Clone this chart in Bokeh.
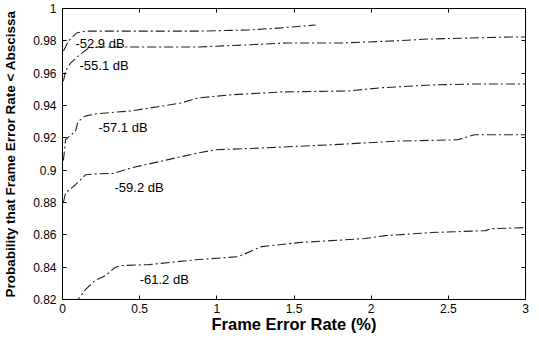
from bokeh.plotting import figure
from bokeh.models import LinearAxis, FixedTicker, Range1d, Label
from bokeh.embed import file_html
from bokeh.resources import INLINE

# Curves: frame error rate (%) vs probability
c529_x = [0.006, 0.04, 0.09, 0.15, 0.88, 1.2, 1.42, 1.64]
c529_y = [0.9737, 0.980, 0.9848, 0.986, 0.986, 0.9867, 0.988, 0.9898]

c551_x = [0.006, 0.02, 0.05, 0.084, 0.12, 0.17, 0.23, 0.88, 1.2, 1.46, 1.82, 2.16, 2.37, 2.91, 3.0]
c551_y = [0.955, 0.9614, 0.966, 0.969, 0.972, 0.9756, 0.9762, 0.9762, 0.9775, 0.9787, 0.9787, 0.980, 0.9811, 0.9824, 0.9824]

c571_x = [0.006, 0.02, 0.084, 0.10, 0.15, 0.23, 0.45, 0.67, 0.77, 0.88, 1.09, 1.42, 1.85, 2.07, 2.39, 2.67, 3.0]
c571_y = [0.906, 0.919, 0.924, 0.930, 0.9336, 0.935, 0.9367, 0.940, 0.9416, 0.9447, 0.9466, 0.9484, 0.949, 0.951, 0.9527, 0.9533, 0.9533]

c592_x = [0.006, 0.02, 0.084, 0.15, 0.23, 0.33, 0.45, 0.88, 0.99, 1.31, 1.74, 2.18, 2.56, 2.67, 3.0]
c592_y = [0.880, 0.886, 0.891, 0.8972, 0.8978, 0.898, 0.9015, 0.9107, 0.9126, 0.9138, 0.9157, 0.918, 0.9188, 0.9219, 0.9219]

c612_x = [0.06, 0.10, 0.15, 0.21, 0.28, 0.34, 0.38, 0.56, 0.88, 1.14, 1.29, 1.53, 1.74, 1.96, 2.09, 2.39, 2.74, 2.78, 3.0]
c612_y = [0.820, 0.820, 0.8262, 0.8317, 0.8348, 0.8398, 0.841, 0.8416, 0.8447, 0.8465, 0.8527, 0.8552, 0.8564, 0.8577, 0.8595, 0.8614, 0.8626, 0.8638, 0.8645]

curves = [(c529_x, c529_y), (c551_x, c551_y), (c571_x, c571_y), (c592_x, c592_y), (c612_x, c612_y)]

label_texts = ["-52.9 dB", "-55.1 dB", "-57.1 dB", "-59.2 dB", "-61.2 dB"]
label_x = [0.084, 0.11, 0.233, 0.337, 0.50]
label_y = [0.9785, 0.965, 0.9262, 0.889, 0.8324]

x_ticks = [0, 0.5, 1, 1.5, 2, 2.5, 3]
x_tick_labels = ["0", "0.5", "1", "1.5", "2", "2.5", "3"]
y_ticks = [0.82, 0.84, 0.86, 0.88, 0.9, 0.92, 0.94, 0.96, 0.98, 1.0]
y_tick_labels = ["0.82", "0.84", "0.86", "0.88", "0.9", "0.92", "0.94", "0.96", "0.98", "1"]

FONT = "Liberation Sans"

p = figure(frame_width=463, frame_height=291, output_backend="svg", toolbar_location=None,
           x_range=Range1d(0, 3), y_range=Range1d(0.82, 1.0),
           min_border_left=0, min_border_right=4, min_border_top=8, min_border_bottom=0,
           x_axis_label="Frame Error Rate (%)",
           y_axis_label="Probability that Frame Error Rate < Abscissa")
p.grid.visible = False
p.outline_line_color = "black"
p.outline_line_width = 1
p.background_fill_color = "white"
p.border_fill_color = "white"

for ax, ticks, labels in [(p.xaxis[0], x_ticks, x_tick_labels), (p.yaxis[0], y_ticks, y_tick_labels)]:
    ax.ticker = FixedTicker(ticks=ticks)
    ax.major_label_overrides = {t: l for t, l in zip(ticks, labels)}
    ax.major_tick_in = 4
    ax.major_tick_out = 0
    ax.minor_tick_line_color = None
    ax.axis_line_color = "black"
    ax.major_label_text_font = FONT
    ax.major_label_text_font_size = "12px"
    ax.major_label_text_color = "black"
    ax.axis_label_text_font = FONT
    ax.axis_label_text_font_style = "bold"
    ax.axis_label_text_color = "black"

p.xaxis[0].axis_label_text_font_size = "16.5px"
p.yaxis[0].axis_label_text_font_size = "13.5px"
p.xaxis[0].major_label_standoff = 4
p.yaxis[0].major_label_standoff = 6
p.xaxis[0].axis_label_standoff = -1
p.yaxis[0].axis_label_standoff = 12

for loc, ticks in [("right", y_ticks), ("above", x_ticks)]:
    ax = LinearAxis(ticker=FixedTicker(ticks=ticks), major_label_text_font_size="0px",
                    major_tick_in=4, major_tick_out=0, minor_tick_line_color=None,
                    major_label_standoff=0, axis_line_color="black")
    ax.major_label_overrides = {t: "" for t in ticks}
    p.add_layout(ax, loc)

for xs, ys in curves:
    p.line(xs, ys, line_color="#222222", line_width=1.1, line_dash="9 3 2 3")

for t, lx, ly in zip(label_texts, label_x, label_y):
    p.add_layout(Label(x=lx, y=ly, text=t, text_font=FONT, text_font_size="13px",
                       text_color="black", text_baseline="middle", text_align="left"))

open("out.html", "w").write(file_html(p, INLINE))
